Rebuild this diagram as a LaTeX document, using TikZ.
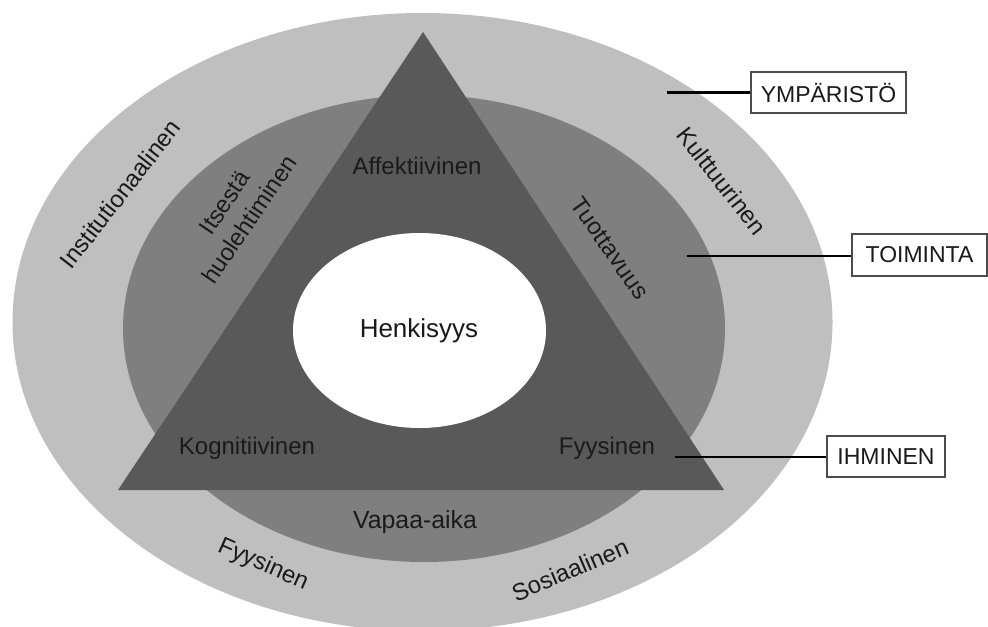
\documentclass[tikz,border=0pt]{standalone}
\usepackage{fontspec}
\setmainfont{Liberation Sans}
\usetikzlibrary{shapes.geometric}
\definecolor{outerg}{HTML}{BFBFBF}
\definecolor{midg}{HTML}{7F7F7F}
\definecolor{trig}{HTML}{595959}
\definecolor{txt}{HTML}{1A1A1A}
\tikzset{
  lbl/.style={text=txt, font=\fontsize{12}{14}\selectfont, inner sep=0pt},
  boxlbl/.style={draw=black!70, fill=white, line width=0.6pt, text=txt,
     font=\fontsize{11.5}{13}\selectfont, inner sep=0pt},
  leader/.style={line width=1.1pt, black}
}
\begin{document}
\begin{tikzpicture}[x=0.5pt,y=-0.5pt]
\useasboundingbox (0,0) rectangle (988,626);
\begin{scope}
\clip (0,0) rectangle (988,626);
% layers
\fill[outerg] (422.5,322) ellipse [x radius=205pt, y radius=154.5pt];
\fill[midg] (424,328.5) ellipse [x radius=150.5pt, y radius=116.75pt];
\fill[trig] (423,32) -- (724,490) -- (118,490) -- cycle;
\fill[white] (419.5,330.5) ellipse [x radius=63.25pt, y radius=48.75pt];
\end{scope}
% texts
\node[lbl, font=\fontsize{13}{15}\selectfont] (henk) at (419,331) {Henkisyys};
\node[lbl] (affe) at (417,166) {Affektiivinen};
\node[lbl] (kogn) at (247,448) {Kognitiivinen};
\node[lbl] (fyys1) at (607,448) {Fyysinen};
\node[lbl, font=\fontsize{12.4}{14}\selectfont] (vapa) at (415,522) {Vapaa-aika};
\node[lbl, rotate=52] (inst) at (120,194) {Institutionaalinen};
\node[lbl, rotate=56, align=center] (itse) at (237,211) {Itsestä\\[1pt]huolehtiminen};
\node[lbl, rotate=-52] (kult) at (722,181) {Kulttuurinen};
\node[lbl, rotate=-55] (tuot) at (610,248) {Tuottavuus};
\node[lbl, rotate=-24] (fyys2) at (263,565) {Fyysinen};
\node[lbl, rotate=23] (sosi) at (570,570) {Sosiaalinen};
% boxes
\node[boxlbl, minimum width=77.5pt, minimum height=20.5pt] (ymp) at (828.5,92.5) {YMPÄRISTÖ};
\node[boxlbl, minimum width=67.5pt, minimum height=21pt] (toim) at (919.5,255) {TOIMINTA};
\node[boxlbl, minimum width=59pt, minimum height=20.5pt] (ihm) at (886,456.5) {IHMINEN};
% leaders
\coordinate (cy) at (667,92.5);
\coordinate (ct) at (687,256);
\coordinate (ci) at (675,457);
\draw[leader] (cy) -- (ymp.west);
\draw[leader] (ct) -- (ct -| toim.west);
\draw[leader] (ci) -- (ci -| ihm.west);
\end{tikzpicture}
\end{document}
